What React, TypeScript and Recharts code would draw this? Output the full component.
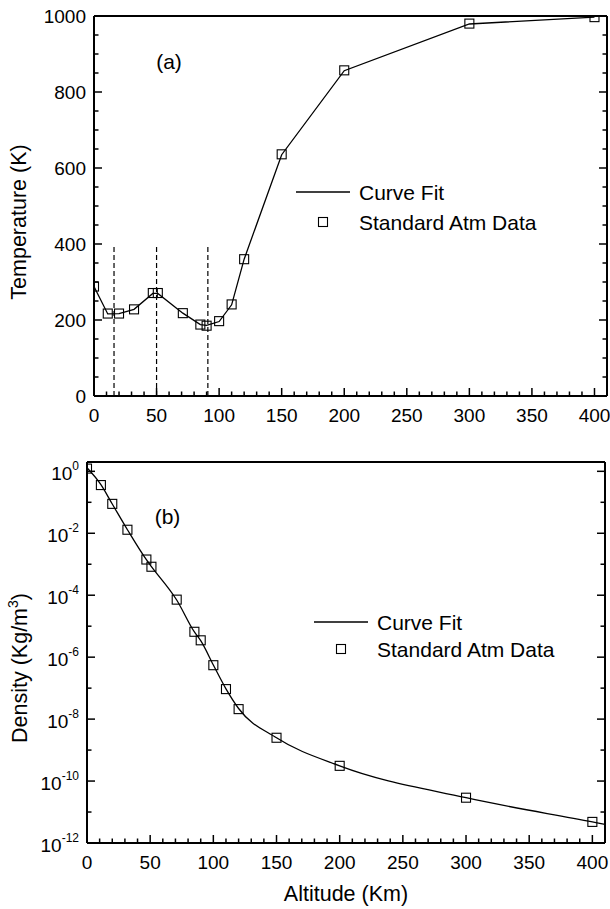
import React from "react";
import { ComposedChart, Line, Scatter, XAxis, YAxis, ReferenceLine, Legend } from "recharts";

const FONT = "'Liberation Sans', Arial, Helvetica, sans-serif";

// standard atmosphere data points (altitude in km)
const ALT = [0, 11, 20, 32, 47, 51, 71, 85, 90, 100, 110, 120, 150, 200, 300, 400];
const TEMP = [288, 217, 217, 228, 271, 271, 218, 188, 185, 197, 241, 360, 636, 857, 980, 997];
const DENS = [1.225, 0.36, 0.089, 0.013, 1.42e-3, 8.3e-4, 7.2e-5, 6.6e-6, 3.5e-6, 5.5e-7, 9.3e-8, 2.1e-8, 2.5e-9, 3.1e-10, 2.9e-11, 4.8e-12];

// curve fits
const FIT_ALT_T = [0, 11, 20, 32, 47, 51, 71, 85, 90, 100, 110, 120, 150, 200, 300, 400];
const FIT_TEMP = [288, 216, 217, 228, 270, 270, 218, 188, 186, 196, 240, 360, 635, 856, 979, 997];
const FIT_ALT_D = [0, 11, 20, 32, 47, 51, 71, 85, 90, 100, 110, 120, 150, 200, 300, 400, 410];
const FIT_DENS = [1.3, 0.37, 0.088, 0.013, 1.4e-3, 8.4e-4, 7.0e-5, 6.5e-6, 3.4e-6, 5.6e-7, 9.5e-8, 2.2e-8, 2.5e-9, 3.1e-10, 2.9e-11, 4.8e-12, 4.0e-12];

// dashed layer markers
const DASH_ALT = [16, 50, 91];
const DASH_TOP = 400;

const X_TICKS = [0, 10, 20, 30, 40, 50, 60, 70, 80, 90, 100, 110, 120, 130, 140, 150, 160, 170, 180, 190, 200,
  210, 220, 230, 240, 250, 260, 270, 280, 290, 300, 310, 320, 330, 340, 350, 360, 370, 380, 390, 400];
const T_TICKS = [0, 50, 100, 150, 200, 250, 300, 350, 400, 450, 500, 550, 600, 650, 700, 750, 800, 850, 900, 950, 1000];
const D_TICKS = [1e-12, 1e-11, 1e-10, 1e-9, 1e-8, 1e-7, 1e-6, 1e-5, 1e-4, 1e-3, 1e-2, 1e-1, 1];

const tempPts = ALT.map((x, i) => ({ x, y: TEMP[i] }));
const tempFit = FIT_ALT_T.map((x, i) => ({ x, y: FIT_TEMP[i] }));
const densPts = ALT.map((x, i) => ({ x, y: DENS[i] }));
const densFit = FIT_ALT_D.map((x, i) => ({ x, y: FIT_DENS[i] }));

const MAJ = 8, MIN = 4.5;
const expOf = (v: number) => Math.round(Math.log10(v));

const Square = (p: any) => (
  <rect x={p.cx - 4.5} y={p.cy - 4.5} width={9} height={9} fill="none" stroke="#000" strokeWidth={1.1} />
);

function BottomTick({ x, y, payload }: any) {
  const v = payload.value;
  const major = v % 50 === 0;
  return (
    <g>
      <line x1={x} x2={x} y1={y} y2={y - (major ? MAJ : MIN)} stroke="#000" strokeWidth={1.5} />
      {major && <text x={x} y={y + 26} textAnchor="middle" fontSize={19} fontFamily={FONT} fill="#000">{v}</text>}
    </g>
  );
}

function TopTick({ x, y, payload }: any) {
  const major = payload.value % 50 === 0;
  return <line x1={x} x2={x} y1={y} y2={y + (major ? MAJ : MIN)} stroke="#000" strokeWidth={1.5} />;
}

function LeftTempTick({ x, y, payload }: any) {
  const v = payload.value;
  const major = v % 200 === 0;
  return (
    <g>
      <line x1={x} x2={x + (major ? MAJ : MIN)} y1={y} y2={y} stroke="#000" strokeWidth={1.5} />
      {major && <text x={x - 8} y={y + 7} textAnchor="end" fontSize={19} fontFamily={FONT} fill="#000">{v}</text>}
    </g>
  );
}

function RightTempTick({ x, y, payload }: any) {
  const major = payload.value % 200 === 0;
  return <line x1={x} x2={x - (major ? MAJ : MIN)} y1={y} y2={y} stroke="#000" strokeWidth={1.5} />;
}

function LeftDensTick({ x, y, payload }: any) {
  const e = expOf(payload.value);
  const major = e % 2 === 0;
  return (
    <g>
      <line x1={x} x2={x + (major ? MAJ : MIN)} y1={y} y2={y} stroke="#000" strokeWidth={1.5} />
      {major && (
        <text x={x - 8} y={y + 9} textAnchor="end" fontSize={19} fontFamily={FONT} fill="#000">
          10<tspan dy={-10} fontSize={12}>{e}</tspan>
        </text>
      )}
    </g>
  );
}

function RightDensTick({ x, y, payload }: any) {
  const major = expOf(payload.value) % 2 === 0;
  return <line x1={x} x2={x - (major ? MAJ : MIN)} y1={y} y2={y} stroke="#000" strokeWidth={1.5} />;
}

const legendBox = (gap: number) => () => (
  <svg width={270} height={60} style={{ display: "block" }}>
    <line x1={6} x2={60} y1={17} y2={17} stroke="#000" strokeWidth={1.3} />
    <text x={69} y={25} fontSize={21} fontFamily={FONT} fill="#000">Curve Fit</text>
    <rect x={28.5} y={17 + gap - 4.5} width={9} height={9} fill="none" stroke="#000" strokeWidth={1.1} />
    <text x={69} y={25 + gap} fontSize={21} fontFamily={FONT} fill="#000">Standard Atm Data</text>
  </svg>
);

const axisLine = { stroke: "#000", strokeWidth: 2 };

export default function App() {
  return (
    <div style={{ position: "absolute", left: 0, top: 0, width: 610, height: 909, background: "#fff" }}>
      <div style={{ position: "absolute", left: 0, top: 0 }}>
        <ComposedChart width={610} height={440} margin={{ top: 15, right: 2, bottom: 0, left: 0 }}>
          <XAxis dataKey="x" type="number" domain={[0, 410]} ticks={X_TICKS} interval={0} allowDataOverflow
            height={44} tickSize={0} tickMargin={0} tickLine={false} axisLine={axisLine} tick={(p: any) => <BottomTick {...p} />} />
          <XAxis xAxisId="t" orientation="top" type="number" domain={[0, 410]} ticks={X_TICKS} interval={0} allowDataOverflow
            height={1} tickSize={0} tickMargin={0} tickLine={false} axisLine={axisLine} tick={(p: any) => <TopTick {...p} />} />
          <YAxis yAxisId="l" dataKey="y" type="number" domain={[0, 1000]} ticks={T_TICKS} interval={0} allowDataOverflow
            width={94} tickSize={0} tickMargin={0} tickLine={false} axisLine={axisLine} tick={(p: any) => <LeftTempTick {...p} />} />
          <YAxis yAxisId="r" orientation="right" type="number" domain={[0, 1000]} ticks={T_TICKS} interval={0} allowDataOverflow
            width={1} tickSize={0} tickMargin={0} tickLine={false} axisLine={axisLine} tick={(p: any) => <RightTempTick {...p} />} />
          {DASH_ALT.map((a) => (
            <ReferenceLine key={a} yAxisId="l" segment={[{ x: a, y: 0 }, { x: a, y: DASH_TOP }]}
              stroke="#000" strokeWidth={1.2} strokeDasharray="5 3" />
          ))}
          <Line yAxisId="l" data={tempFit} dataKey="y" type="linear" stroke="#000" strokeWidth={1.3} dot={false} isAnimationActive={false} />
          <Scatter yAxisId="l" data={tempPts} dataKey="y" shape={Square} isAnimationActive={false} />
          <Legend layout="horizontal" verticalAlign="middle" align="center" content={legendBox(30)}
            wrapperStyle={{ left: 290, top: 175, width: 270, height: 60 }} />
        </ComposedChart>
      </div>
      <div style={{ position: "absolute", left: 0, top: 440 }}>
        <ComposedChart width={610} height={469} margin={{ top: 21, right: 4, bottom: 0, left: 0 }}>
          <XAxis dataKey="x" type="number" domain={[0, 410]} ticks={X_TICKS} interval={0} allowDataOverflow
            height={66} tickSize={0} tickMargin={0} tickLine={false} axisLine={axisLine} tick={(p: any) => <BottomTick {...p} />} />
          <XAxis xAxisId="t" orientation="top" type="number" domain={[0, 410]} ticks={X_TICKS} interval={0} allowDataOverflow
            height={1} tickSize={0} tickMargin={0} tickLine={false} axisLine={axisLine} tick={(p: any) => <TopTick {...p} />} />
          <YAxis yAxisId="l" dataKey="y" type="number" scale="log" domain={[1e-12, 2]} ticks={D_TICKS} interval={0} allowDataOverflow
            width={87} tickSize={0} tickMargin={0} tickLine={false} axisLine={axisLine} tick={(p: any) => <LeftDensTick {...p} />} />
          <YAxis yAxisId="r" orientation="right" type="number" scale="log" domain={[1e-12, 2]} ticks={D_TICKS} interval={0} allowDataOverflow
            width={1} tickSize={0} tickMargin={0} tickLine={false} axisLine={axisLine} tick={(p: any) => <RightDensTick {...p} />} />
          <Line yAxisId="l" data={densFit} dataKey="y" type="monotone" stroke="#000" strokeWidth={1.3} dot={false} isAnimationActive={false} />
          <Scatter yAxisId="l" data={densPts} dataKey="y" shape={Square} isAnimationActive={false} />
          <Legend layout="horizontal" verticalAlign="middle" align="center" content={legendBox(27)}
            wrapperStyle={{ left: 308, top: 165, width: 270, height: 60 }} />
        </ComposedChart>
      </div>
      <svg width={610} height={909} style={{ position: "absolute", left: 0, top: 0, pointerEvents: "none" }}
        fontFamily={FONT} fill="#000">
        <text x={169} y={69} fontSize={21} textAnchor="middle">(a)</text>
        <text x={167.5} y={523.5} fontSize={21} textAnchor="middle">(b)</text>
        <text transform="translate(25.5,222) rotate(-90)" fontSize={21.5} textAnchor="middle">Temperature (K)</text>
        <text transform="translate(27,668) rotate(-90)" fontSize={21.5} textAnchor="middle">
          Density (Kg/m<tspan dy={-9} fontSize={14}>3</tspan><tspan dy={9}>)</tspan>
        </text>
        <text x={346} y={900.5} fontSize={21.5} textAnchor="middle">Altitude (Km)</text>
      </svg>
    </div>
  );
}
